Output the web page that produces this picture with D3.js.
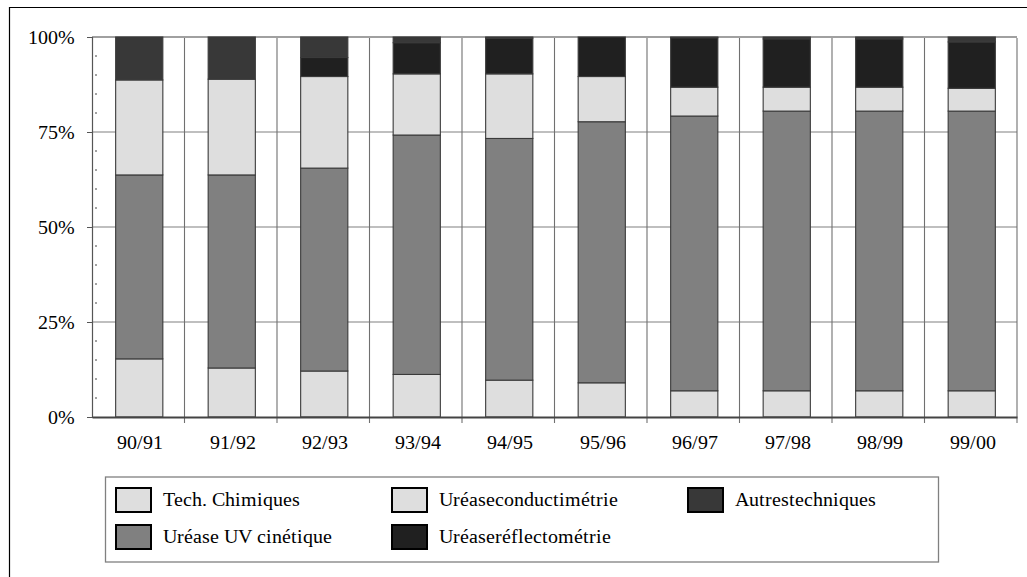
<!DOCTYPE html>
<html><head><meta charset="utf-8">
<script src="https://cdn.jsdelivr.net/npm/d3@7"></script>
<style>
@font-face { font-family: "RefSerif"; src: local("Liberation Serif"), local("LiberationSerif"), local("Liberation Serif Regular"), local("LiberationSerif-Regular"), local("Tinos"), local("Nimbus Roman"), local("DejaVu Serif"); }
</style>
</head><body style="margin:0;background:#fff"><svg id="c" width="1027" height="577"></svg>
<script>
const categories = ["90/91","91/92","92/93","93/94","94/95","95/96","96/97","97/98","98/99","99/00"];
const techChimiques  = [15.3, 12.9, 12.1, 11.2, 9.7, 9.0, 6.9, 6.9, 6.9, 6.9];
const ureaseUV       = [48.4, 50.8, 53.4, 63.0, 63.6, 68.7, 72.3, 73.6, 73.6, 73.6];
const ureaseConduct  = [25.0, 25.2, 24.1, 16.1, 17.0, 11.9, 7.6, 6.3, 6.3, 6.0];
const ureaseReflecto = [0.0, 0.0, 5.0, 8.2, 9.4, 10.4, 13.0, 12.7, 12.7, 12.2];
const autresTech     = [11.3, 11.1, 5.4, 1.5, 0.3, 0.0, 0.2, 0.5, 0.5, 1.3];
const yTicks = [0, 25, 50, 75, 100];
const yMinorTicks = [5,10,15,20,30,35,40,45,55,60,65,70,80,85,90,95];
const seriesNames = ["Tech. Chimiques","Uréase UV cinétique","Uréaseconductimétrie","Uréaseréflectométrie","Autrestechniques"];
const seriesValues = [techChimiques, ureaseUV, ureaseConduct, ureaseReflecto, autresTech];
const seriesColors = ["#dedede","#808080","#dedede","#202020","#383838"];

const svg = d3.select("#c");
const FONT = "RefSerif, Liberation Serif, serif";
const FS = 20;
const L = 92, R = 1017, T = 37, B = 417;

svg.append("path").attr("d", "M9.5,577 V7.5 H1027").attr("fill","none").attr("stroke","#000").attr("stroke-width",1.2);

const x = d3.scaleBand().domain(categories).range([L, R]).paddingInner(0.49).paddingOuter(0.245);
const y = d3.scaleLinear().domain([0, 100]).range([B, T]);

svg.append("g").selectAll("line").data(yTicks.filter(d => d > 0)).join("line")
  .attr("x1", L).attr("x2", R).attr("y1", d => y(d)).attr("y2", d => y(d))
  .attr("stroke", "#808080").attr("stroke-width", d => d === 100 ? 1.6 : 1.2);

const step = x.step();
svg.append("g").selectAll("line").data(d3.range(1, categories.length + 1)).join("line")
  .attr("x1", i => L + i * step).attr("x2", i => L + i * step)
  .attr("y1", T + 1).attr("y2", B + 6)
  .attr("stroke", "#707070").attr("stroke-width", 1.1);

const rows = categories.map((c, i) => {
  const r = { cat: c };
  seriesNames.forEach((s, j) => r[s] = seriesValues[j][i]);
  return r;
});
const stack = d3.stack().keys(seriesNames)(rows);

svg.append("g").selectAll("g").data(stack).join("g")
  .attr("fill", (d, i) => seriesColors[i])
  .selectAll("rect").data(d => d).join("rect")
  .attr("x", d => x(d.data.cat) + 1)
  .attr("width", x.bandwidth())
  .attr("y", d => y(d[1]))
  .attr("height", d => Math.max(0, y(d[0]) - y(d[1])))
  .attr("stroke", "#3a3a3a").attr("stroke-width", 1.1);

const yAxis = svg.append("g").attr("transform", `translate(${L},0)`)
  .call(d3.axisLeft(y).tickValues(yTicks).tickFormat(d => d + "%").tickSize(5).tickPadding(12));
yAxis.attr("font-family", FONT).attr("font-size", FS);
yAxis.select(".domain").attr("stroke", "#555").attr("stroke-width", 1.2);
yAxis.selectAll(".tick line").attr("stroke", "#555");
yAxis.selectAll("text").attr("font-family", FONT).attr("font-size", FS).attr("fill", "#000");

svg.append("g").selectAll("line").data(yMinorTicks).join("line")
  .attr("x1", L + 3).attr("x2", L + 5).attr("y1", d => y(d)).attr("y2", d => y(d))
  .attr("stroke", "#444").attr("stroke-width", 1);

const xAxis = svg.append("g").attr("transform", `translate(0,${B})`)
  .call(d3.axisBottom(x).tickSize(0).tickPadding(18));
xAxis.attr("font-family", FONT).attr("font-size", FS);
xAxis.select(".domain").attr("stroke", "#444").attr("stroke-width", 1.8);
xAxis.selectAll("text").attr("font-family", FONT).attr("font-size", FS).attr("fill", "#000").attr("dx", 2);

svg.append("rect").attr("x", 105.5).attr("y", 477).attr("width", 833).attr("height", 85)
  .attr("fill", "#fff").attr("stroke", "#808080").attr("stroke-width", 1.3);
const legendPos = [[116, 488], [116, 525], [392, 488], [392, 525], [688, 488]];
const lg = svg.append("g").selectAll("g").data(seriesNames).join("g")
  .attr("transform", (d, i) => `translate(${legendPos[i][0]},${legendPos[i][1]})`);
lg.append("rect").attr("width", 35).attr("height", 24)
  .attr("fill", (d, i) => seriesColors[i]).attr("stroke", "#000").attr("stroke-width", 2);
lg.append("text").attr("x", 47).attr("y", 18).text(d => d)
  .attr("font-family", FONT).attr("font-size", FS).attr("fill", "#000");
</script></body></html>
